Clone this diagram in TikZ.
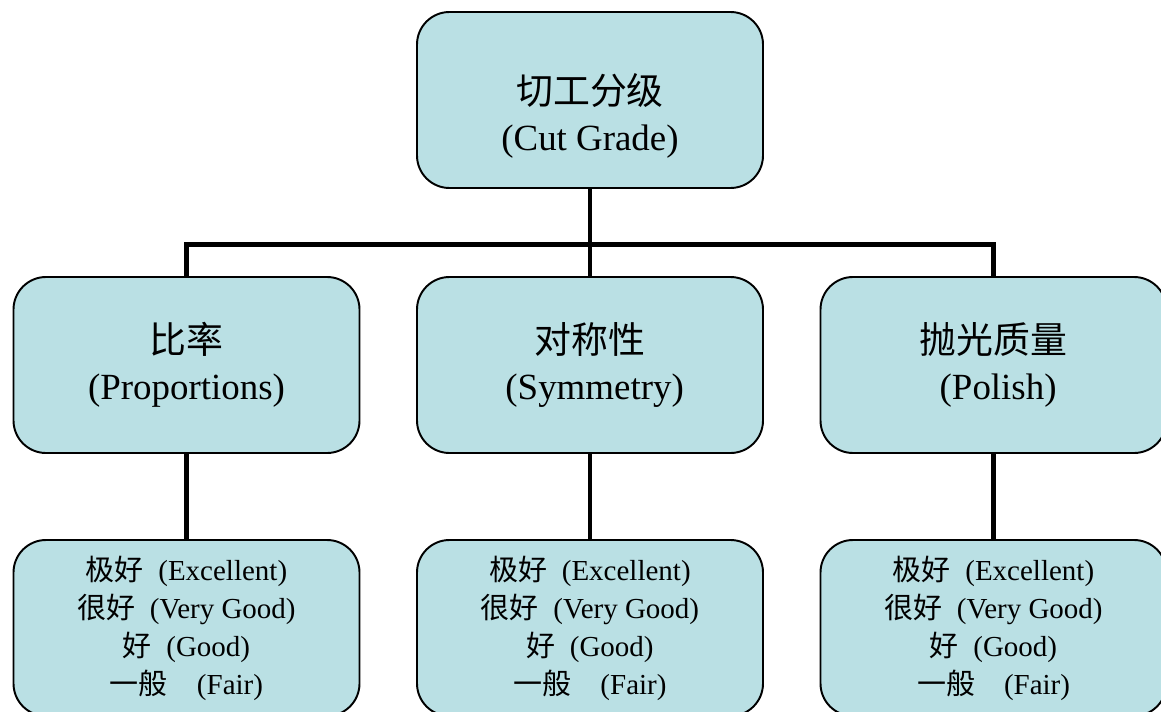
\documentclass[tikz,border=0pt]{standalone}
\usepackage{fontspec}
\setmainfont{Liberation Serif}
\newfontfamily\cjk{Noto Sans CJK SC}
\usepackage{tikz}
\usetikzlibrary{calc}

\definecolor{boxfill}{RGB}{186,224,228}
\newcommand{\zh}[1]{{\cjk #1}}
\tikzset{
  box/.style={shape=rectangle,draw,fill=boxfill,line width=1.1pt,rounded corners=0.65cm,minimum width=6.92cm,minimum height=3.52cm,align=center},
  big/.style={font=\fontsize{21}{26}\selectfont},
  small/.style={font=\fontsize{16.5}{21.6}\selectfont},
  conn/.style={line width=2.8pt}
}

\begin{document}
\begin{tikzpicture}
\useasboundingbox (0,0) rectangle (23.22,14.22);
\clip (0,0) rectangle (23.22,14.22);

\node (C) [box,big] at (11.8,12.22) {\rule{0pt}{36pt}\zh{切工分级}\\(Cut Grade)};

\node (P) [box,big] at (3.73,6.92) {\zh{比率}\\(Proportions)};
\node (S) [box,big] at (11.8,6.92) {\zh{对称性}\\~(Symmetry)};
\node (L) [box,big] at (19.87,6.92) {\zh{抛光质量}\\~(Polish)};

\node (P0) [box,small] at (3.73,1.66) {\zh{极好}\enspace(Excellent)\\\zh{很好}\enspace(Very Good)\\\zh{好}\enspace(Good)\\\zh{一般}\quad(Fair)};
\node (S0) [box,small] at (11.8,1.66) {\zh{极好}\enspace(Excellent)\\\zh{很好}\enspace(Very Good)\\\zh{好}\enspace(Good)\\\zh{一般}\quad(Fair)};
\node (L0) [box,small] at (19.87,1.66) {\zh{极好}\enspace(Excellent)\\\zh{很好}\enspace(Very Good)\\\zh{好}\enspace(Good)\\\zh{一般}\quad(Fair)};

\coordinate (J) at ($(C.south)!0.64!(S.north)$);
\draw[conn] (C.south) -- (S.north);
\draw[conn] (P.north) |- (J) -| (L.north);

\draw[conn] (P.south) -- (P0.north);
\draw[conn] (S.south) -- (S0.north);
\draw[conn] (L.south) -- (L0.north);

\end{tikzpicture}
\end{document}
